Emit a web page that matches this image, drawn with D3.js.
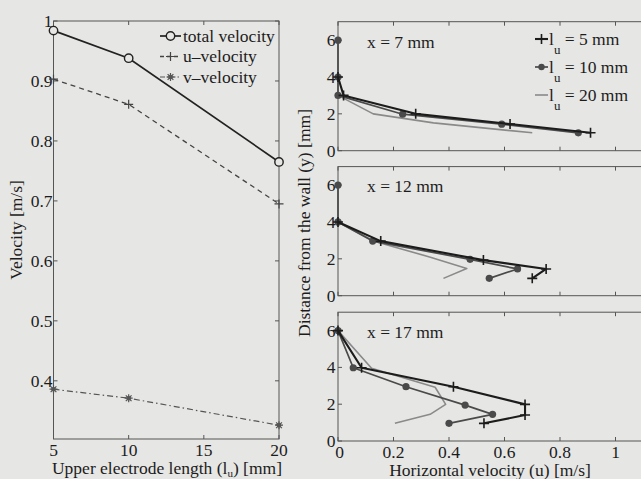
<!DOCTYPE html>
<html><head><meta charset="utf-8">
<script src="https://cdn.jsdelivr.net/npm/d3@7"></script>
<style>
html,body{margin:0;padding:0;background:#e6e6e4;}
svg{display:block;}
text{font-family:"Liberation Serif",Tinos,"Times New Roman",Times,serif;fill:#1c1c1c;}
</style></head>
<body><svg id="c" width="641" height="479"></svg>
<script>
// ---------- Left chart data ----------
const electrodeLengths = [5, 10, 20];
const totalVelocity = [0.984, 0.938, 0.765];
const uVelocity = [0.903, 0.861, 0.695];
const vVelocity = [0.386, 0.371, 0.326];
const leftXTicks = [5, 10, 15, 20];
const leftYTicks = [0.4, 0.5, 0.6, 0.7, 0.8, 0.9, 1];
const leftYTickLabels = ["0.4", "0.5", "0.6", "0.7", "0.8", "0.9", "1"];
const leftLegend = ["total velocity", "u\u2013velocity", "v\u2013velocity"];

// ---------- Right chart data: [u (m/s), y (mm)] ----------
const panelTitles = ["x = 7 mm", "x = 12 mm", "x = 17 mm"];
const profileSeriesNames = ["5", "10", "20"];
const profileLu5 = [
  [[0.0, 4], [0.02, 3], [0.28, 2.0], [0.62, 1.45], [0.91, 0.97]],
  [[0.0, 4], [0.154, 2.96], [0.524, 1.93], [0.75, 1.45], [0.70, 0.94]],
  [[0.0, 6], [0.085, 3.98], [0.416, 2.95], [0.674, 1.99], [0.674, 1.41], [0.526, 0.96]]
];
const profileLu10 = [
  [[0.0, 6], [0.0, 4], [0.0, 3], [0.233, 1.98], [0.59, 1.44], [0.866, 0.97]],
  [[0.0, 6], [0.0, 4], [0.125, 2.96], [0.476, 1.97], [0.647, 1.45], [0.545, 0.94]],
  [[0.0, 6], [0.055, 3.98], [0.245, 2.95], [0.458, 1.95], [0.557, 1.45], [0.40, 0.96]]
];
const profileLu20 = [
  [[0.0, 3], [0.127, 2.0], [0.344, 1.51], [0.70, 0.97]],
  [[0.0, 4], [0.13, 2.95], [0.33, 2.1], [0.464, 1.48], [0.38, 0.94]],
  [[0.0, 6], [0.121, 3.95], [0.35, 2.92], [0.388, 1.99], [0.332, 1.45], [0.205, 0.96]]
];
const rightXTicks = [0, 0.2, 0.4, 0.6, 0.8, 1];
const rightXTickLabels = ["0", "0.2", "0.4", "0.6", "0.8", "1"];
const rightYTicks = [0, 2, 4, 6];

// ---------- drawing ----------
const svg = d3.select("#c");
const FS = 17.5;
const BG = "#e6e6e4";
const axisColor = "#555";
const tickLen = 4;

function plusPath(s){return `M${-s},0H${s}M0,${-s}V${s}`;}
function starPath(s){const d=s*0.72;return `M${-s},0H${s}M0,${-s}V${s}M${-d},${-d}L${d},${d}M${-d},${d}L${d},${-d}`;}

// ===== LEFT =====
const lx = d3.scaleLinear().domain([5, 20]).range([53.5, 279]);
const ly = d3.scaleLinear().domain([0.303, 1]).range([439, 21]);
const L = svg.append("g");

L.append("rect").attr("x", lx(5)).attr("y", ly(1)).attr("width", lx(20)-lx(5)).attr("height", ly(0.303)-ly(1))
  .attr("fill", "none").attr("stroke", axisColor).attr("stroke-width", 1);
leftXTicks.forEach(t => {
  L.append("line").attr("x1", lx(t)).attr("x2", lx(t)).attr("y1", ly(0.303)).attr("y2", ly(0.303)-tickLen).attr("stroke", axisColor);
  L.append("line").attr("x1", lx(t)).attr("x2", lx(t)).attr("y1", ly(1)).attr("y2", ly(1)+tickLen).attr("stroke", axisColor);
  L.append("text").attr("x", lx(t)).attr("y", 455.5).attr("text-anchor", "middle").attr("font-size", FS).text(t);
});
leftYTicks.forEach((t, i) => {
  L.append("line").attr("x1", lx(5)).attr("x2", lx(5)+tickLen).attr("y1", ly(t)).attr("y2", ly(t)).attr("stroke", axisColor);
  L.append("line").attr("x1", lx(20)).attr("x2", lx(20)-tickLen).attr("y1", ly(t)).attr("y2", ly(t)).attr("stroke", axisColor);
  L.append("text").attr("x", lx(5)-1).attr("y", ly(t)+6).attr("text-anchor", "end").attr("font-size", FS).text(leftYTickLabels[i]);
});

const lineL = d3.line().x(d => lx(d[0])).y(d => ly(d[1]));
const zipL = vals => electrodeLengths.map((e, i) => [e, vals[i]]);

L.append("path").datum(zipL(vVelocity)).attr("d", lineL).attr("fill", "none").attr("stroke", "#555")
  .attr("stroke-width", 1.2).attr("stroke-dasharray", "6,3,1.5,3");
L.selectAll(".vm").data(zipL(vVelocity)).enter().append("g")
  .attr("transform", d => `translate(${lx(d[0])},${ly(d[1])})`).each(function(){
    d3.select(this).append("path").attr("d", starPath(4)).attr("stroke", "#555").attr("stroke-width", 1.2);
    d3.select(this).append("circle").attr("r", 2.3).attr("fill", "#555");
  });
L.append("path").datum(zipL(uVelocity)).attr("d", lineL).attr("fill", "none").attr("stroke", "#444")
  .attr("stroke-width", 1.3).attr("stroke-dasharray", "5,4");
L.selectAll(".um").data(zipL(uVelocity)).enter().append("path")
  .attr("transform", d => `translate(${lx(d[0])},${ly(d[1])})`).attr("d", plusPath(4.5))
  .attr("stroke", "#444").attr("stroke-width", 1.2);
L.append("path").datum(zipL(totalVelocity)).attr("d", lineL).attr("fill", "none").attr("stroke", "#222").attr("stroke-width", 1.7);
L.selectAll(".tm").data(zipL(totalVelocity)).enter().append("circle")
  .attr("cx", d => lx(d[0])).attr("cy", d => ly(d[1])).attr("r", 4.2)
  .attr("fill", BG).attr("stroke", "#222").attr("stroke-width", 1.4);

const legRowsY = [36, 56.5, 77];
legRowsY.forEach((yy, i) => {
  const g = L.append("g");
  if (i === 0) {
    g.append("line").attr("x1", 160).attr("x2", 181).attr("y1", yy).attr("y2", yy).attr("stroke", "#222").attr("stroke-width", 1.7);
    g.append("circle").attr("cx", 170.5).attr("cy", yy).attr("r", 4.2).attr("fill", BG).attr("stroke", "#222").attr("stroke-width", 1.4);
  } else if (i === 1) {
    g.append("line").attr("x1", 160).attr("x2", 181).attr("y1", yy).attr("y2", yy).attr("stroke", "#444").attr("stroke-width", 1.3).attr("stroke-dasharray", "4,3");
    g.append("path").attr("transform", `translate(170.5,${yy})`).attr("d", plusPath(4.5)).attr("stroke", "#444").attr("stroke-width", 1.2);
  } else {
    g.append("line").attr("x1", 160).attr("x2", 181).attr("y1", yy).attr("y2", yy).attr("stroke", "#555").attr("stroke-width", 1.2).attr("stroke-dasharray", "5,2,1.5,2");
    g.append("path").attr("transform", `translate(170.5,${yy})`).attr("d", starPath(4)).attr("stroke", "#555").attr("stroke-width", 1.2);
    g.append("circle").attr("cx", 170.5).attr("cy", yy).attr("r", 2.3).attr("fill", "#555");
  }
  g.append("text").attr("x", 183).attr("y", yy + 5.5).attr("font-size", FS).text(leftLegend[i]);
});

const xl = L.append("text").attr("x", 167).attr("y", 474).attr("text-anchor", "middle").attr("font-size", FS);
xl.append("tspan").text("Upper electrode length (l");
xl.append("tspan").attr("font-size", 11).attr("dy", 2.5).text("u");
xl.append("tspan").attr("dy", -2.5).text(") [mm]");
L.append("text").attr("transform", "translate(22,230) rotate(-90)").attr("text-anchor", "middle").attr("font-size", FS).text("Velocity [m/s]");

// ===== RIGHT =====
const rx = d3.scaleLinear().domain([0, 1.1]).range([338, 338 + 1.1 * 277.5]);
const panelRanges = [[150.7, 21.7], [295.7, 166.6], [441, 312.2]];
const titleBaselines = [48, 192, 338];
const R = svg.append("g");

const seriesStyles = [
  {data: profileLu20, color: "#8a8a8a", width: 1.6, marker: null},
  {data: profileLu10, color: "#4a4a4a", width: 1.7, marker: "dot"},
  {data: profileLu5, color: "#1c1c1c", width: 2.1, marker: "plus"}
];

panelRanges.forEach((rng, p) => {
  const ry = d3.scaleLinear().domain([0, 7]).range(rng);
  const g = R.append("g");
  g.append("rect").attr("x", rx(0)).attr("y", ry(7)).attr("width", rx(1.1) - rx(0)).attr("height", ry(0) - ry(7))
    .attr("fill", "none").attr("stroke", axisColor).attr("stroke-width", 1);
  rightXTicks.forEach((t, i) => {
    g.append("line").attr("x1", rx(t)).attr("x2", rx(t)).attr("y1", ry(0)).attr("y2", ry(0) - tickLen).attr("stroke", axisColor);
    g.append("line").attr("x1", rx(t)).attr("x2", rx(t)).attr("y1", ry(7)).attr("y2", ry(7) + tickLen).attr("stroke", axisColor);
    if (p === 2) g.append("text").attr("x", rx(t) + (t === 0 ? 1.5 : 0)).attr("y", 457.5).attr("text-anchor", "middle").attr("font-size", FS).text(rightXTickLabels[i]);
  });
  rightYTicks.forEach(t => {
    g.append("line").attr("x1", rx(0)).attr("x2", rx(0) + tickLen).attr("y1", ry(t)).attr("y2", ry(t)).attr("stroke", axisColor);
    g.append("text").attr("x", rx(0) - 2.5).attr("y", ry(t) + 6).attr("text-anchor", "end").attr("font-size", FS).text(t);
  });
  g.append("text").attr("x", 367).attr("y", titleBaselines[p]).attr("font-size", FS).text(panelTitles[p]);

  const line = d3.line().x(d => rx(d[0])).y(d => ry(d[1]));
  seriesStyles.forEach(s => {
    const d = s.data[p];
    g.append("path").datum(d).attr("d", line).attr("fill", "none").attr("stroke", s.color)
      .attr("stroke-width", s.width).attr("stroke-linejoin", "round");
    if (s.marker === "dot") {
      g.selectAll(null).data(d).enter().append("circle").attr("cx", q => rx(q[0])).attr("cy", q => ry(q[1]))
        .attr("r", 3.6).attr("fill", s.color);
    } else if (s.marker === "plus") {
      g.selectAll(null).data(d).enter().append("path").attr("transform", q => `translate(${rx(q[0])},${ry(q[1])})`)
        .attr("d", plusPath(5)).attr("stroke", s.color).attr("stroke-width", 1.6);
    }
  });
});

const rLegY = [39, 67, 95];
const rLegStyles = [seriesStyles[2], seriesStyles[1], seriesStyles[0]];
rLegY.forEach((yy, i) => {
  const s = rLegStyles[i];
  R.append("line").attr("x1", 535).attr("x2", 548).attr("y1", yy).attr("y2", yy).attr("stroke", s.color).attr("stroke-width", s.width);
  if (s.marker === "plus") R.append("path").attr("transform", `translate(541.5,${yy})`).attr("d", plusPath(5)).attr("stroke", s.color).attr("stroke-width", 1.6);
  if (s.marker === "dot") R.append("circle").attr("cx", 541.5).attr("cy", yy).attr("r", 3.2).attr("fill", s.color);
  const t = R.append("text").attr("x", 549).attr("y", yy + 5.5).attr("font-size", FS);
  t.append("tspan").text("l");
  t.append("tspan").attr("font-size", 13).attr("dy", 9).text("u");
  t.append("tspan").attr("dy", -9).text(" = " + profileSeriesNames[i] + " mm");
});

R.append("text").attr("x", 490).attr("y", 476).attr("text-anchor", "middle").attr("font-size", FS).text("Horizontal velocity (u) [m/s]");
R.append("text").attr("transform", "translate(310,223) rotate(-90)").attr("text-anchor", "middle").attr("font-size", FS).text("Distance from the wall (y) [mm]");
</script></body></html>
